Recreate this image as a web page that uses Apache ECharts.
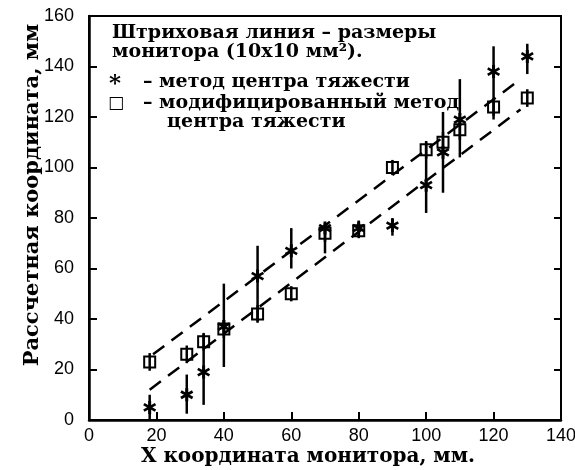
<!DOCTYPE html>
<html>
<head>
<meta charset="utf-8">
<script src="https://cdn.jsdelivr.net/npm/echarts@6/dist/echarts.min.js"></script>
<style>
html,body{margin:0;padding:0;background:#fff;}
#chart{width:575px;height:470px;}
</style>
</head>
<body>
<div id="chart"></div>
<script>
// ---- data ----
var xPositions = [18, 29, 34, 40, 50, 60, 70, 80, 90, 100, 105, 110, 120, 130];
// centre-of-gravity method (asterisks)
var cogValues = [5, 10, 19, 37, 57, 67, 76, 76, 77, 93, 106, 119, 138, 144];
var cogLow    = [0, 2.5, 6, 21, 39, 60, 66, 73, 73, 82, 90, 104, 119, 137];
var cogHigh   = [10, 18, 34, 54, 69, 76, 78, 79, 80, 110, 122, 135, 148, 149];
// modified centre-of-gravity method (squares)
var modValues = [23, 26, 31, 36, 42, 50, 74, 75, 100, 107, 110, 115, 124, 127.5];
var modLow    = [19.5, 22.5, 27.5, 32.5, 38.5, 47, 70.5, 72, 97, 103.5, 106, 111, 120.5, 124];
var modHigh   = [26.5, 29.5, 34.5, 39.5, 45.5, 53, 77.5, 78, 103, 110.5, 114, 119, 127.5, 131];
// dashed lines: monitor size
var upperLineX = [19, 128];
var upperLineY = [26, 135];
var lowerLineX = [18, 128];
var lowerLineY = [12, 123];
var xTicks = {min: 0, max: 140, interval: 20};
var yTicks = {min: 0, max: 160, interval: 20};

var titleFont = '"DejaVu Serif", serif';
var chart = echarts.init(document.getElementById('chart'), null, {renderer: 'canvas'});

function pairs(xs, ys) { return xs.map(function (x, i) { return [x, ys[i]]; }); }
function triples(xs, lo, hi) { return xs.map(function (x, i) { return [x, lo[i], hi[i]]; }); }

function errRender(params, api) {
  var x = api.value(0), lo = api.value(1), hi = api.value(2);
  var p1 = api.coord([x, lo]), p2 = api.coord([x, hi]);
  return {type: 'line', shape: {x1: p1[0], y1: p1[1], x2: p2[0], y2: p2[1]},
          style: {stroke: '#000', lineWidth: 2.5}};
}

var starPath = 'path://M-1.1,-5L1.1,-5L1.1,5L-1.1,5Z M-3.83,-3.37L4.83,1.63L3.83,3.37L-4.83,-1.63Z M-4.83,1.63L3.83,-3.37L4.83,-1.63L-3.83,3.37Z';

var option = {
  backgroundColor: '#fff',
  animation: false,
  grid: {left: 89, right: 14, top: 16, bottom: 50, outerBoundsMode: 'none', containLabel: false,
         show: true, borderColor: '#000', borderWidth: 2, backgroundColor: 'transparent'},
  xAxis: {
    type: 'value', min: xTicks.min, max: xTicks.max, interval: xTicks.interval,
    name: 'X координата монитора, мм.', nameLocation: 'middle', nameGap: 27, nameMoveOverlap: false,
    nameTextStyle: {color: '#000', fontFamily: titleFont, fontWeight: 'bold', fontSize: 20, padding: [0, 34, 0, 0]},
    axisLine: {lineStyle: {color: '#000', width: 2.5}},
    axisTick: {inside: true, length: 8, lineStyle: {color: '#000', width: 2}},
    axisLabel: {color: '#000', fontFamily: '"Liberation Sans", Arial, sans-serif', fontSize: 18, margin: 7},
    splitLine: {show: false}
  },
  yAxis: [{
    type: 'value', min: yTicks.min, max: yTicks.max, interval: yTicks.interval,
    name: 'Рассчетная координата, мм', nameLocation: 'middle', nameGap: 46, nameMoveOverlap: false,
    nameTextStyle: {color: '#000', fontFamily: titleFont, fontWeight: 'bold', fontSize: 21, padding: [0, 0, 0, 46]},
    axisLine: {show: true, lineStyle: {color: '#000', width: 2.5}},
    axisTick: {show: true, inside: true, length: 8, lineStyle: {color: '#000', width: 2}},
    axisLabel: {color: '#000', fontFamily: '"Liberation Sans", Arial, sans-serif', fontSize: 18, margin: 15},
    splitLine: {show: false}
  }, {
    type: 'value', min: yTicks.min, max: yTicks.max, interval: yTicks.interval, position: 'right',
    axisLine: {show: true, lineStyle: {color: '#000', width: 2}},
    axisTick: {show: true, inside: true, length: 7, lineStyle: {color: '#000', width: 2}},
    axisLabel: {show: false}, splitLine: {show: false}
  }],
  graphic: [
    {type: 'text', x: 112, y: 33, style: {text: 'Штриховая линия – размеры', font: 'bold 19px ' + titleFont, fill: '#000', verticalAlign: 'middle'}},
    {type: 'text', x: 112, y: 52, style: {text: 'монитора (10x10 мм²).', font: 'bold 19px ' + titleFont, fill: '#000', verticalAlign: 'middle'}},
    {type: 'text', x: 109, y: 84, style: {text: '*', font: 'bold 23px ' + titleFont, fill: '#000', verticalAlign: 'middle'}},
    {type: 'text', x: 143, y: 82, style: {text: '– метод центра тяжести', font: 'bold 19px ' + titleFont, fill: '#000', verticalAlign: 'middle'}},
    {type: 'text', x: 108, y: 104, style: {text: '□', font: 'bold 17px ' + titleFont, fill: '#000', verticalAlign: 'middle'}},
    {type: 'text', x: 143, y: 103, style: {text: '– модифицированный метод', font: 'bold 19px ' + titleFont, fill: '#000', verticalAlign: 'middle'}},
    {type: 'text', x: 167, y: 122, style: {text: 'центра тяжести', font: 'bold 19px ' + titleFont, fill: '#000', verticalAlign: 'middle'}}
  ],
  series: [
    {type: 'line', data: pairs(upperLineX, upperLineY), symbol: 'none', lineStyle: {color: '#000', width: 2.5, type: [14, 9]}, z: 1},
    {type: 'line', data: pairs(lowerLineX, lowerLineY), symbol: 'none', lineStyle: {color: '#000', width: 2.5, type: [14, 9]}, z: 1},
    {type: 'custom', name: 'cogErr', renderItem: errRender, data: triples(xPositions, cogLow, cogHigh), encode: {x: 0, y: [1, 2]}, z: 2},
    {type: 'custom', name: 'modErr', renderItem: errRender, data: triples(xPositions, modLow, modHigh), encode: {x: 0, y: [1, 2]}, z: 2},
    {type: 'scatter', name: 'метод центра тяжести', data: pairs(xPositions, cogValues), symbol: starPath, symbolSize: 13, itemStyle: {color: '#000', opacity: 1}, z: 3},
    {type: 'scatter', name: 'модифицированный метод центра тяжести', data: pairs(xPositions, modValues), symbol: 'rect', symbolSize: 11, itemStyle: {color: 'transparent', borderColor: '#000', borderWidth: 2, opacity: 1}, z: 3}
  ]
};
chart.setOption(option);
</script>
</body>
</html>
